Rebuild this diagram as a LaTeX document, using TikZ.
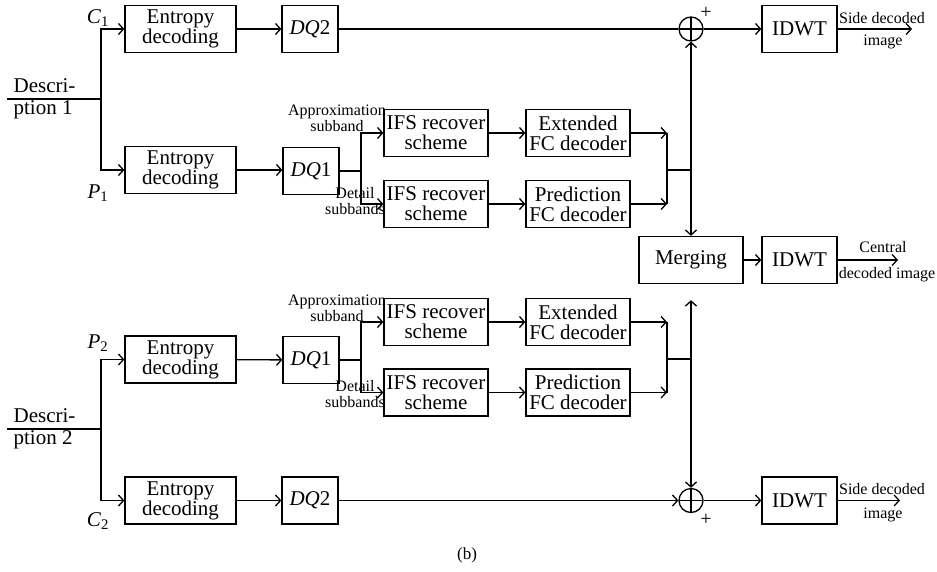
\documentclass[tikz,border=0pt]{standalone}
\usepackage{fontspec}
\setmainfont{Liberation Serif}
\usetikzlibrary{arrows.meta}

\tikzset{
  blk/.style={draw, rectangle, inner sep=0pt, minimum height=47, align=center,
    font=\fontsize{21}{20}\selectfont},
  sumnode/.style={draw, circle, inner sep=0pt, minimum size=24,
    path picture={\draw (path picture bounding box.north) -- (path picture bounding box.south)
      (path picture bounding box.west) -- (path picture bounding box.east);}},
  lbl/.style={inner sep=0pt, align=center, font=\fontsize{16}{16}\selectfont},
  biglbl/.style={inner sep=0pt, align=left, font=\fontsize{21}{22}\selectfont},
}

\begin{document}
\begin{tikzpicture}[x=1pt, y=-1pt, line width=1.3pt,
  >={Straight Barb[length=5pt,width=11pt]}]
\useasboundingbox (0,0) rectangle (937,571);

% upper half: description 1
\node[blk, minimum width=111] (ed1) at (180.5,29) {Entropy\\decoding};
\node[blk, minimum width=56] (dqa) at (310,29) {\textit{DQ}2};
\node[sumnode] (sum1) at (691,29) {};
\node[blk, minimum width=75] (idwt1) at (799.5,29) {IDWT};

\node[blk, minimum width=111] (ed2) at (180.5,170) {Entropy\\decoding};
\node[blk, minimum width=56] (dq1) at (311,171) {\textit{DQ}1};
\node[blk, minimum width=104] (ifs1) at (436,133) {IFS recover\\scheme};
\node[blk, minimum width=104] (ifs2) at (436,204) {IFS recover\\scheme};
\node[blk, minimum width=104] (ext1) at (578,133) {Extended\\FC decoder};
\node[blk, minimum width=104] (pred1) at (578,204) {Prediction\\FC decoder};

\node[blk, minimum width=104] (merge) at (691,260) {Merging};
\node[blk, minimum width=75] (idwtc) at (799.5,260) {IDWT};

% lower half: description 2
\node[blk, minimum width=111] (ed3) at (180.5,359.5) {Entropy\\decoding};
\node[blk, minimum width=56] (dq3) at (311,360) {\textit{DQ}1};
\node[blk, minimum width=104] (ifs3) at (436,322) {IFS recover\\scheme};
\node[blk, minimum width=104] (ifs4) at (436,392.5) {IFS recover\\scheme};
\node[blk, minimum width=104] (ext2) at (578,322) {Extended\\FC decoder};
\node[blk, minimum width=104] (pred2) at (578,392.5) {Prediction\\FC decoder};

\node[blk, minimum width=111] (ed4) at (180.5,500.5) {Entropy\\decoding};
\node[blk, minimum width=56] (dqb) at (310,500.5) {\textit{DQ}2};
\node[sumnode] (sum2) at (691,500.5) {};
\node[blk, minimum width=75] (idwt2) at (799.5,500.5) {IDWT};

% junctions and free ends
\coordinate (d1in) at (7,99);
\coordinate (d1j) at (101,99);
\coordinate (d2in) at (7,429);
\coordinate (d2j) at (101,429);
\coordinate (sp1) at (361,171);
\coordinate (sp2) at (361,360);
\coordinate (mg1) at (667,170);
\coordinate (mg2) at (667,359);
\coordinate (jn1) at (691,170);
\coordinate (jn2) at (691,359);
\coordinate (out1) at (912,29);
\coordinate (outc) at (898,260);
\coordinate (out2) at (900,500.5);

% labels
\node[biglbl, anchor=west] (desc1) at (13,99) {Descri-\\ption 1};
\node[biglbl, anchor=west] (desc2) at (13,429) {Descri-\\ption 2};
\node[biglbl] (c1) at (98,18) {\textit{C}\textsubscript{1}};
\node[biglbl] (p1) at (98,193) {\textit{P}\textsubscript{1}};
\node[biglbl] (p2) at (98,343) {\textit{P}\textsubscript{2}};
\node[biglbl] (c2) at (98,521) {\textit{C}\textsubscript{2}};
\node[lbl] (ap1) at (337,118) {Approximation\\subband};
\node[lbl] (dt1) at (355,201) {Detail\\subbands};
\node[lbl] (ap2) at (337,308) {Approximation\\subband};
\node[lbl] (dt2) at (355,394) {Detail\\subbands};
\node[lbl, font=\fontsize{20}{20}\selectfont] (pl1) at (706,13) {+};
\node[lbl, font=\fontsize{20}{20}\selectfont] (pl2) at (706,520) {+};
\node[lbl] (sd1) at (882,18) {Side decoded};
\node[lbl] (im1) at (883,42) {image};
\node[lbl] (cen) at (883,247) {Central};
\node[lbl] (dci) at (887,275) {decoded image};
\node[lbl] (sd2) at (882,489) {Side decoded};
\node[lbl] (im2) at (883,515) {image};
\node[biglbl, font=\fontsize{17}{17}\selectfont] (cap) at (467,555) {(b)};

% connectors, upper half
\draw (d1in) -- (d1j);
\draw[->] (d1j) |- (ed1.west);
\draw[->] (d1j) |- (ed2.west);
\draw[->] (ed1) -- (dqa);
\draw (dqa) -- (sum1);
\draw[->] (sum1) -- (idwt1);
\draw[->] (idwt1) -- (out1);
\draw[->] (ed2) -- (ed2 -| dq1.west);
\draw (dq1) -- (sp1);
\draw[->] (sp1) |- (ifs1.west);
\draw[->] (sp1) |- (ifs2.west);
\draw[->] (ifs1) -- (ext1);
\draw[->] (ifs2) -- (pred1);
\draw[->] (ext1.east) -- (ext1.east -| mg1);
\draw[->] (pred1.east) -- (pred1.east -| mg1);
\draw (ext1.east -| mg1) -- (pred1.east -| mg1);
\draw (mg1) -- (jn1);
\draw[->] (jn1) -- (sum1.south);
\draw[->] (jn1) -- (merge.north);
\draw[->] (merge) -- (idwtc);
\draw[->] (idwtc) -- (outc);

% connectors, lower half
\draw (d2in) -- (d2j);
\draw[->] (d2j) |- (ed3.west);
\draw[->] (d2j) |- (ed4.west);
\draw[->] (ed3) -- (dq3);
\draw (dq3) -- (sp2);
\draw[->] (sp2) |- (ifs3.west);
\draw[->] (sp2) |- (ifs4.west);
\draw[->] (ifs3) -- (ext2);
\draw[->] (ifs4) -- (pred2);
\draw[->] (ext2.east) -- (ext2.east -| mg2);
\draw[->] (pred2.east) -- (pred2.east -| mg2);
\draw (ext2.east -| mg2) -- (pred2.east -| mg2);
\draw (mg2) -- (jn2);
\draw[->, shorten >=16pt] (jn2) -- (merge.south);
\draw[->] (jn2) -- (sum2.north);
\draw[->] (ed4) -- (dqb);
\draw[->] (dqb) -- (sum2);
\draw[->] (sum2) -- (idwt2);
\draw[->] (idwt2) -- (out2);
\end{tikzpicture}
\end{document}
